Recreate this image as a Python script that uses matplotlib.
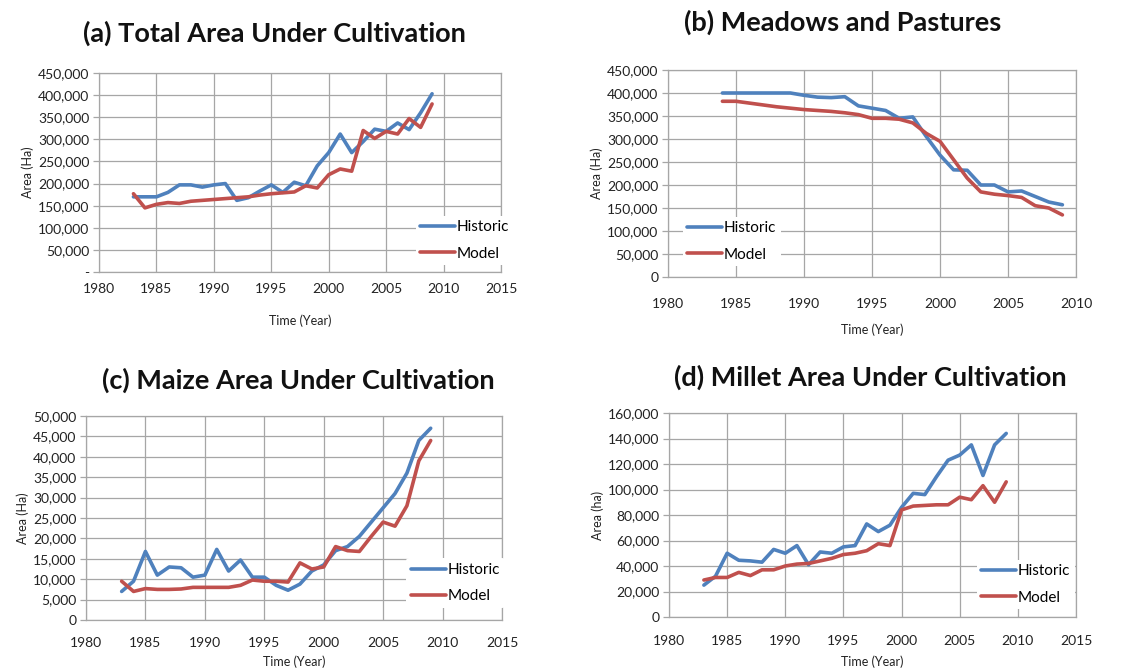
import matplotlib
matplotlib.use("Agg")
import matplotlib.pyplot as plt
from matplotlib.ticker import FuncFormatter, MultipleLocator

plt.rcParams['font.family'] = ['Lato', 'DejaVu Sans']

years_a = list(range(1983, 2010))
hist_a = [170000, 170000, 170000, 180000, 197000, 197000, 192000, 197000, 200000, 162000,
          168000, 183000, 197000, 180000, 203000, 195000, 240000, 270000, 312000, 270000,
          295000, 323000, 318000, 337000, 322000, 360000, 403000]
model_a = [177000, 145000, 153000, 157000, 155000, 160000, 162000, 164000, 166000, 168000,
           170000, 174000, 177000, 179000, 181000, 195000, 190000, 220000, 233000, 228000,
           320000, 302000, 318000, 312000, 347000, 327000, 380000]

years_b = list(range(1984, 2010))
hist_b = [400000, 400000, 400000, 400000, 400000, 400000, 395000, 391000, 390000, 392000,
          372000, 367000, 362000, 345000, 348000, 305000, 265000, 233000, 232000, 200000,
          200000, 185000, 187000, 175000, 163000, 157000]
model_b = [382000, 382000, 378000, 374000, 370000, 367000, 364000, 362000, 360000, 357000,
           353000, 345000, 345000, 343000, 335000, 312000, 295000, 255000, 215000, 185000,
           180000, 177000, 173000, 155000, 150000, 135000]

years_c = list(range(1983, 2010))
hist_c = [7000, 9500, 16800, 11000, 13000, 12800, 10500, 11000, 17300, 12000,
          14700, 10500, 10500, 8500, 7300, 8800, 12000, 13500, 17000, 18000,
          20500, 24000, 27500, 31000, 36000, 44000, 47000]
model_c = [9500, 7000, 7700, 7500, 7500, 7600, 8000, 8000, 8000, 8000,
           8500, 9800, 9500, 9500, 9300, 14000, 12500, 13000, 18000, 17000,
           16800, 20500, 24000, 23000, 28000, 39000, 44000]

years_d = list(range(1983, 2010))
hist_d = [25000, 32000, 50000, 44500, 44000, 43000, 53000, 50000, 56000, 41000,
          51000, 50000, 55000, 56000, 73000, 67000, 72000, 86000, 97000, 96000,
          110000, 123000, 127000, 135000, 111000, 135000, 144000]
model_d = [29000, 31000, 31000, 35000, 32500, 37000, 37000, 40000, 41500, 42000,
           44000, 46000, 49000, 50000, 52000, 57500, 56000, 84000, 87000, 87500,
           88000, 88000, 94000, 92000, 103000, 90000, 106000]

titles = ["(a) Total Area Under Cultivation", "(b) Meadows and Pastures",
          "(c) Maize Area Under Cultivation", "(d) Millet Area Under Cultivation"]
ylabels = ["Area (Ha)", "Area (Ha)", "Area (Ha)", "Area (ha)"]
series_names = ["Historic", "Model"]

BLUE = "#4F81BD"
RED = "#C0504D"
GRID = "#A6A6A6"
W, H = 1133, 671

fig = plt.figure(figsize=(W / 100, H / 100), dpi=100)


def ax_at(l, t, r, b):
    return fig.add_axes([l / W, 1 - b / H, (r - l) / W, (b - t) / H])


panels = [
    dict(box=(99, 73, 501, 272), x=years_a, h=hist_a, m=model_a, xmax=2015,
         ymax=450000, ystep=50000, dash_zero=True, title_xy=(274, 33),
         leg=(0.769, 0.158), xpad=8, xlp=14),
    dict(box=(668, 70, 1076, 277), x=years_b, h=hist_b, m=model_b, xmax=2010,
         ymax=450000, ystep=50000, dash_zero=False, title_xy=(843, 22),
         leg=(0.017, 0.171), xpad=15, xlp=10),
    dict(box=(86, 416, 502, 620), x=years_c, h=hist_c, m=model_c, xmax=2015,
         ymax=50000, ystep=5000, dash_zero=False, title_xy=(298, 380),
         leg=(0.752, 0.181), xpad=12, xlp=5),
    dict(box=(669, 413, 1076, 617), x=years_d, h=hist_d, m=model_d, xmax=2015,
         ymax=160000, ystep=20000, dash_zero=False, title_xy=(870, 377),
         leg=(0.737, 0.159), xpad=13, xlp=6),
]

for i, p in enumerate(panels):
    ax = ax_at(*p["box"])
    ax.plot(p["x"], p["h"], color=BLUE, lw=2.6, solid_joinstyle='round',
            solid_capstyle='round', label=series_names[0], zorder=3)
    ax.plot(p["x"], p["m"], color=RED, lw=2.6, solid_joinstyle='round',
            solid_capstyle='round', label=series_names[1], zorder=3)
    ax.set_xlim(1980, p["xmax"])
    ax.set_ylim(0, p["ymax"])
    ax.xaxis.set_major_locator(MultipleLocator(5))
    ax.yaxis.set_major_locator(MultipleLocator(p["ystep"]))
    dz = p["dash_zero"]
    ax.yaxis.set_major_formatter(FuncFormatter(
        lambda v, pos, dz=dz: ("-" if dz else "0") if v == 0 else f"{int(v):,}"))
    ax.grid(True, color=GRID, lw=0.9)
    ax.set_axisbelow(True)
    for s in ax.spines.values():
        s.set_color(GRID)
        s.set_linewidth(0.9)
    ax.tick_params(axis='both', colors=GRID, labelcolor="#222222", labelsize=10,
                   length=4, width=0.9, direction='out', pad=3)
    ax.tick_params(axis='x', length=0, pad=p["xpad"])
    ax.set_xlabel("Time (Year)", fontsize=9, color="#222222", labelpad=p["xlp"])
    ax.set_ylabel(ylabels[i], fontsize=9, color="#222222", labelpad=3)
    leg = ax.legend(loc='center left', bbox_to_anchor=p["leg"], frameon=True,
                    fontsize=11, handlelength=2.3, handletextpad=0.1,
                    labelspacing=0.8, borderpad=0.3)
    leg.get_frame().set_edgecolor('none')
    leg.get_frame().set_facecolor('white')
    leg.get_frame().set_alpha(1)
    tx, ty = p["title_xy"]
    fig.text(tx / W, 1 - ty / H, titles[i], fontsize=19.5, fontweight='bold',
             ha='center', va='center', color="#111111")

fig.savefig("out.png", dpi=100)
